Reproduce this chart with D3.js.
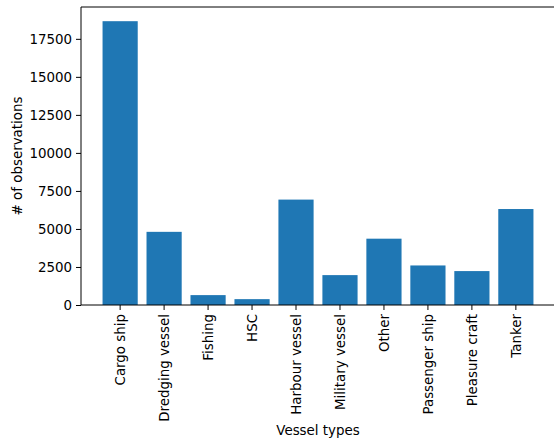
<!DOCTYPE html>
<html>
<head>
<meta charset="utf-8">
<script src="https://cdn.jsdelivr.net/npm/d3@7"></script>
<style>
  html, body { margin: 0; padding: 0; background: #fff; }
  svg { display: block; font-family: "DejaVu Sans", sans-serif; }
</style>
</head>
<body>
<svg id="chart" width="554" height="444"></svg>
<script>
// Observation counts per vessel type
const vesselTypes = ["Cargo ship", "Dredging vessel", "Fishing", "HSC", "Harbour vessel",
                     "Military vessel", "Other", "Passenger ship", "Pleasure craft", "Tanker"];
const observations = [18660, 4810, 650, 385, 6930, 1965, 4360, 2600, 2230, 6310];
const yTicks = [0, 2500, 5000, 7500, 10000, 12500, 15000, 17500];

const svg = d3.select("#chart");
const plot = { left: 81, right: 555, top: 7, bottom: 305 };
const barColor = "#1f77b4";
const fontSize = "13.4px";

const x = d3.scaleBand()
  .domain(vesselTypes)
  .range([plot.left, plot.right])
  .paddingInner(0.2)
  .paddingOuter(0.49);

const y = d3.scaleLinear()
  .domain([0, d3.max(observations) * 1.05])
  .range([plot.bottom, plot.top]);

// Bars
svg.append("g")
  .selectAll("rect")
  .data(vesselTypes)
  .join("rect")
  .attr("x", d => x(d))
  .attr("width", x.bandwidth())
  .attr("y", (d, i) => y(observations[i]))
  .attr("height", (d, i) => y(0) - y(observations[i]))
  .attr("fill", barColor);

// Y axis
const yAxis = svg.append("g")
  .attr("transform", `translate(${plot.left},0)`)
  .call(d3.axisLeft(y).tickValues(yTicks).tickFormat(d3.format("d")).tickSize(5).tickPadding(4));
yAxis.select(".domain").remove();
yAxis.selectAll(".tick line").attr("stroke", "#000");
yAxis.selectAll(".tick text")
  .attr("fill", "#000")
  .style("font-size", fontSize)
  .style("font-family", "DejaVu Sans, sans-serif");

// X axis with rotated category labels
const xAxis = svg.append("g")
  .attr("transform", `translate(0,${plot.bottom})`)
  .call(d3.axisBottom(x).tickSize(5).tickPadding(0));
xAxis.select(".domain").remove();
xAxis.selectAll(".tick line").attr("stroke", "#000");
xAxis.selectAll(".tick text")
  .attr("fill", "#000")
  .style("font-size", fontSize)
  .style("font-family", "DejaVu Sans, sans-serif")
  .attr("text-anchor", "end")
  .attr("transform", "translate(0,9) rotate(-90)")
  .attr("x", 0)
  .attr("y", 0)
  .attr("dy", "0.35em");

// Frame lines (left, top, bottom)
const frame = svg.append("g").attr("stroke", "#000").attr("stroke-width", 1).attr("fill", "none");
frame.append("line").attr("x1", plot.left).attr("x2", plot.left).attr("y1", plot.top).attr("y2", plot.bottom);
frame.append("line").attr("x1", plot.left).attr("x2", plot.right).attr("y1", plot.top).attr("y2", plot.top);
frame.append("line").attr("x1", plot.left).attr("x2", plot.right).attr("y1", plot.bottom).attr("y2", plot.bottom);

// Axis titles
svg.append("text")
  .attr("x", (plot.left + plot.right) / 2)
  .attr("y", 435)
  .attr("text-anchor", "middle")
  .style("font-size", fontSize)
  .text("Vessel types");

svg.append("text")
  .attr("transform", `translate(22,${(plot.top + plot.bottom) / 2}) rotate(-90)`)
  .attr("text-anchor", "middle")
  .style("font-size", fontSize)
  .text("# of observations");
</script>
</body>
</html>
